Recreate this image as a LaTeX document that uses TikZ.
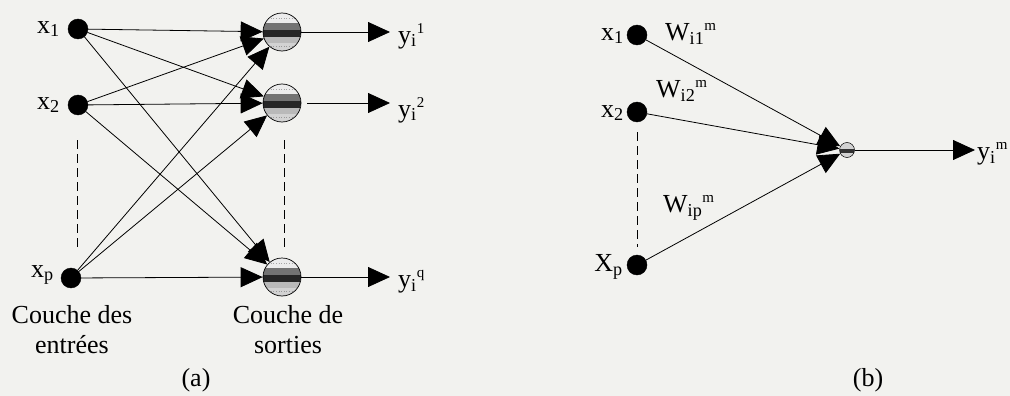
\documentclass[tikz,border=0pt]{standalone}
\usepackage{fontspec}
\setmainfont{Liberation Serif}
\usetikzlibrary{arrows.meta}
\definecolor{paper}{RGB}{242,242,239}
\tikzset{
  inp/.style={circle, fill=black, draw=black, minimum size=20pt, inner sep=0pt},
  outn/.style={circle, draw=black, line width=0.7pt, minimum size=38pt, inner sep=0pt,
     fill=gray!35,
     path picture={
       \fill[gray!15] (path picture bounding box.north west) rectangle ([yshift=-14pt]path picture bounding box.north east);
       \fill[black!55] ([yshift=-10pt]path picture bounding box.north west) rectangle ([yshift=-17pt]path picture bounding box.north east);
       \fill[black!85] ([yshift=-17pt]path picture bounding box.north west) rectangle ([yshift=-24pt]path picture bounding box.north east);
       \fill[gray!55] ([yshift=-24pt]path picture bounding box.north west) rectangle ([yshift=-30pt]path picture bounding box.north east);
       \draw[gray!70, line width=0.6pt, dotted] ([yshift=-5pt]path picture bounding box.north west) -- ([yshift=-5pt]path picture bounding box.north east);
       \draw[gray!80, line width=0.6pt, dotted] ([yshift=-33pt]path picture bounding box.north west) -- ([yshift=-33pt]path picture bounding box.north east);
     }},
  smalln/.style={circle, draw=black, line width=0.5pt, minimum size=15pt, inner sep=0pt,
     fill=gray!35,
     path picture={
       \fill[black!80] ([yshift=-6pt]path picture bounding box.north west) rectangle ([yshift=-10pt]path picture bounding box.north east);
     }},
  arr/.style={line width=0.8pt, -{Triangle[length=22pt,width=20pt]}},
  dsh/.style={line width=0.8pt, dash pattern=on 9pt off 5pt},
  lbl/.style={font=\fontsize{26}{30}\selectfont, inner sep=0pt},
}
\newcommand{\supm}[1]{\raisebox{10pt}{\fontsize{15}{15}\selectfont #1}}
\begin{document}
\begin{tikzpicture}[x=1pt,y=-1pt]
\fill[paper] (0,0) rectangle (1010,396);
\useasboundingbox (0,0) rectangle (1010,396);
% ---------- panel (a)
\node[inp] (a1) at (78,29) {};
\node[inp] (a2) at (78,105) {};
\node[inp] (ap) at (71,278) {};
\node[outn] (o1) at (282,32) {};
\node[outn] (o2) at (282,103) {};
\node[outn] (o3) at (282,277) {};
\node[lbl, anchor=east] (la1) at (60,29) {x\textsubscript{1}};
\node[lbl, anchor=east] (la2) at (60,105) {x\textsubscript{2}};
\node[lbl, anchor=east] (lap) at (54,275) {x\textsubscript{p}};
\draw[dsh] (77,140) -- (77,250);
\draw[dsh] (284,140) -- (284,248);
\foreach \s in {a1,a2,ap}{
  \foreach \t in {o1,o2,o3}{
    \draw[arr] (\s) -- (\t);
  }
}
\coordinate (e1) at (390,32);
\coordinate (e2) at (390,103);
\coordinate (e3) at (390,277);
\draw[arr] (o1) -- (e1);
\draw[arr] ([xshift=6pt]o2.east) -- (e2);
\draw[arr] (o3) -- (e3);
\node[lbl, anchor=west] (y1) at (398,36) {y\textsubscript{i}\supm{1}};
\node[lbl, anchor=west] (y2) at (398,110) {y\textsubscript{i}\supm{2}};
\node[lbl, anchor=west] (yq) at (398,282) {y\textsubscript{i}\supm{q}};
\node[lbl, align=center] (ca) at (72,330) {Couche des\\entrées};
\node[lbl, align=center] (cb) at (288,330) {Couche de\\sorties};
\node[lbl] (pa) at (196,380) {(a)};
% ---------- panel (b)
\node[inp] (b1) at (637,35) {};
\node[inp] (b2) at (637,112) {};
\node[inp] (bp) at (637,265) {};
\node[smalln] (n) at (847,150) {};
\node[lbl, anchor=east] (lb1) at (624,36) {x\textsubscript{1}};
\node[lbl, anchor=east] (lb2) at (624,113) {x\textsubscript{2}};
\node[lbl, anchor=east] (lbp) at (623,267) {X\textsubscript{p}};
\draw[dsh] (637,132) -- (637,247);
\draw[arr] (b1) -- (n);
\draw[arr] (b2) -- (n);
\draw[arr] (bp) -- (n);
\coordinate (eb) at (975,150);
\draw[arr] (n) -- (eb);
\node[lbl, anchor=west] (ym) at (977,154) {y\textsubscript{i}\supm{m}};
\node[lbl, anchor=west] (w1) at (665,34) {W\textsubscript{i1}\supm{m}};
\node[lbl, anchor=west] (w2) at (656,91) {W\textsubscript{i2}\supm{m}};
\node[lbl, anchor=west] (wp) at (663,208) {W\textsubscript{ip}\supm{m}};
\node[lbl] (pb) at (868,380) {(b)};
\end{tikzpicture}
\end{document}
